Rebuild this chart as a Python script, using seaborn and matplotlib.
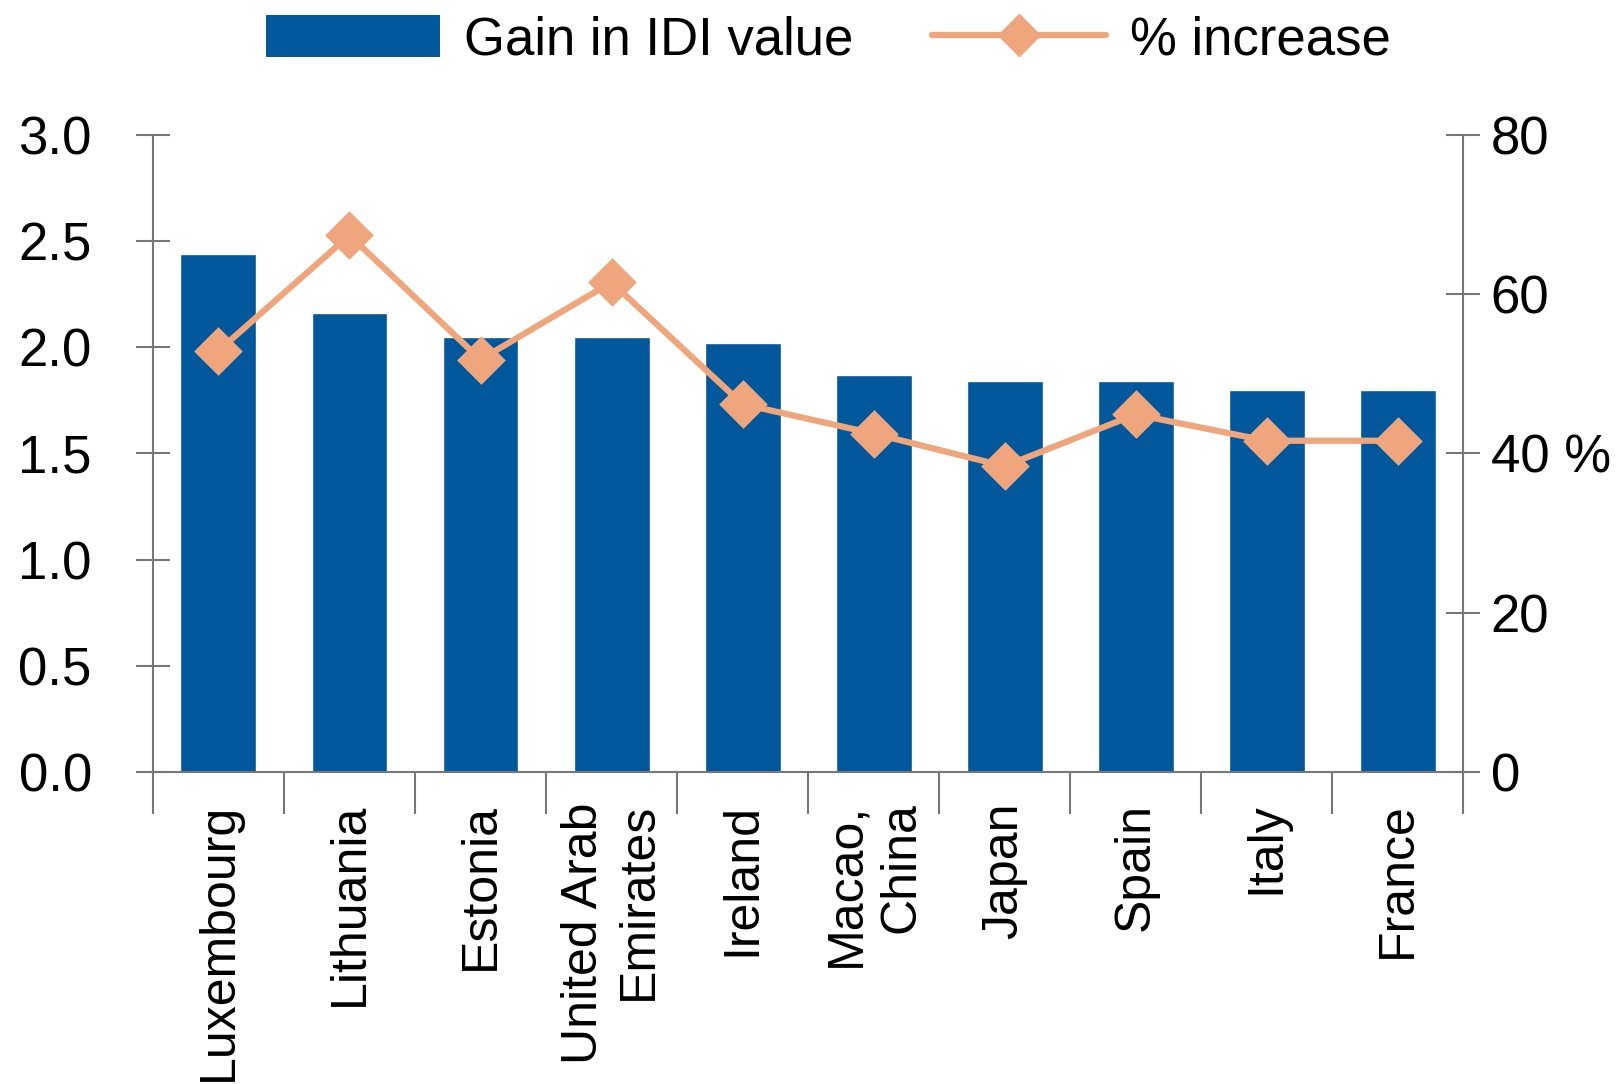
import numpy as np
import pandas as pd
import seaborn as sns
import matplotlib.pyplot as plt
from matplotlib.patches import Patch
from matplotlib.lines import Line2D
from matplotlib.ticker import FixedLocator

countries = ['Luxembourg', 'Lithuania', 'Estonia', 'United Arab\nEmirates', 'Ireland',
             'Macao,\nChina', 'Japan', 'Spain', 'Italy', 'France']
idi_gain = [2.44, 2.16, 2.05, 2.05, 2.02, 1.87, 1.84, 1.84, 1.80, 1.80]
pct_increase = [52.9, 67.4, 51.8, 61.5, 46.2, 42.5, 38.4, 44.9, 41.6, 41.6]

left_ticks = [0, 0.5, 1.0, 1.5, 2.0, 2.5, 3.0]
right_ticks = [0, 20, 40, 60, 80]
right_labels = ['0', '20', '40 %', '60', '80']

bar_color = '#02589a'
line_color = '#efa67c'
axis_color = '#777777'

sns.set_style('white')
plt.rcParams['font.family'] = ['Liberation Sans', 'DejaVu Sans']
plt.rcParams['text.color'] = 'black'
FS = 38      # horizontal text
FS_X = 36    # rotated country names

df = pd.DataFrame({'country': countries, 'gain': idi_gain, 'pct': pct_increase})

fig = plt.figure(figsize=(16.24, 10.84), dpi=100)
ax = fig.add_axes([0.0942, 0.2878, 0.8067, 0.5877])

sns.barplot(data=df, x='country', y='gain', color=bar_color, saturation=1,
            width=0.58, ax=ax)
ax.set_ylim(0, 3.0)
ax.set_xlim(-0.5, len(countries) - 0.5)

ax2 = ax.twinx()
sns.pointplot(data=df, x='country', y='pct', color=line_color, marker='D',
              markersize=21, linewidth=4.5, ax=ax2)
ax2.set_ylim(0, 80)
ax2.set_xlim(-0.5, len(countries) - 0.5)

# spines
for a in (ax, ax2):
    a.spines['top'].set_visible(False)
    for s in ('left', 'right', 'bottom'):
        a.spines[s].set_color(axis_color)
        a.spines[s].set_linewidth(1.5)
ax.spines['right'].set_visible(False)
ax2.spines['left'].set_visible(False)
ax2.spines['bottom'].set_visible(False)

# left axis
ax.set_yticks(left_ticks)
ax.set_yticklabels([f'{t:.1f}' for t in left_ticks])
ax.tick_params(axis='y', direction='inout', length=24, width=1.5, color=axis_color,
               labelsize=FS, labelcolor='black', pad=32, left=True)

# right axis
ax2.set_yticks(right_ticks)
ax2.set_yticklabels(right_labels)
ax2.tick_params(axis='y', direction='inout', length=24, width=1.5, color=axis_color,
                labelsize=FS, labelcolor='black', pad=8, right=True)

# x axis: labels at centres, ticks at boundaries
ax.set_xticks(range(len(countries)))
ax.set_xticklabels(countries, rotation=90, ha='center', va='top', ma='right',
                   linespacing=1.25)
ax.tick_params(axis='x', length=0, labelsize=FS_X, labelcolor='black', pad=22)
ax.xaxis.set_minor_locator(FixedLocator(np.arange(-0.5, len(countries), 1.0)))
ax.tick_params(axis='x', which='minor', direction='out', length=30, width=1.5,
               color=axis_color, bottom=True)
ax.set_xlabel('')
ax.set_ylabel('')
ax2.set_xlabel('')
ax2.set_ylabel('')
ax2.tick_params(axis='x', length=0, labelbottom=False)

handles = [Patch(facecolor=bar_color, edgecolor='none'),
           Line2D([], [], color=line_color, lw=4.5, marker='D', markersize=21)]
fig.legend(handles, ['Gain in IDI value', '% increase'], loc='center',
           bbox_to_anchor=(0.51, 0.963), ncol=2, frameon=False, fontsize=FS,
           handlelength=3.3, handleheight=0.85, handletextpad=0.45,
           columnspacing=1.5)

fig.savefig('out.png', dpi=100, facecolor='white')
